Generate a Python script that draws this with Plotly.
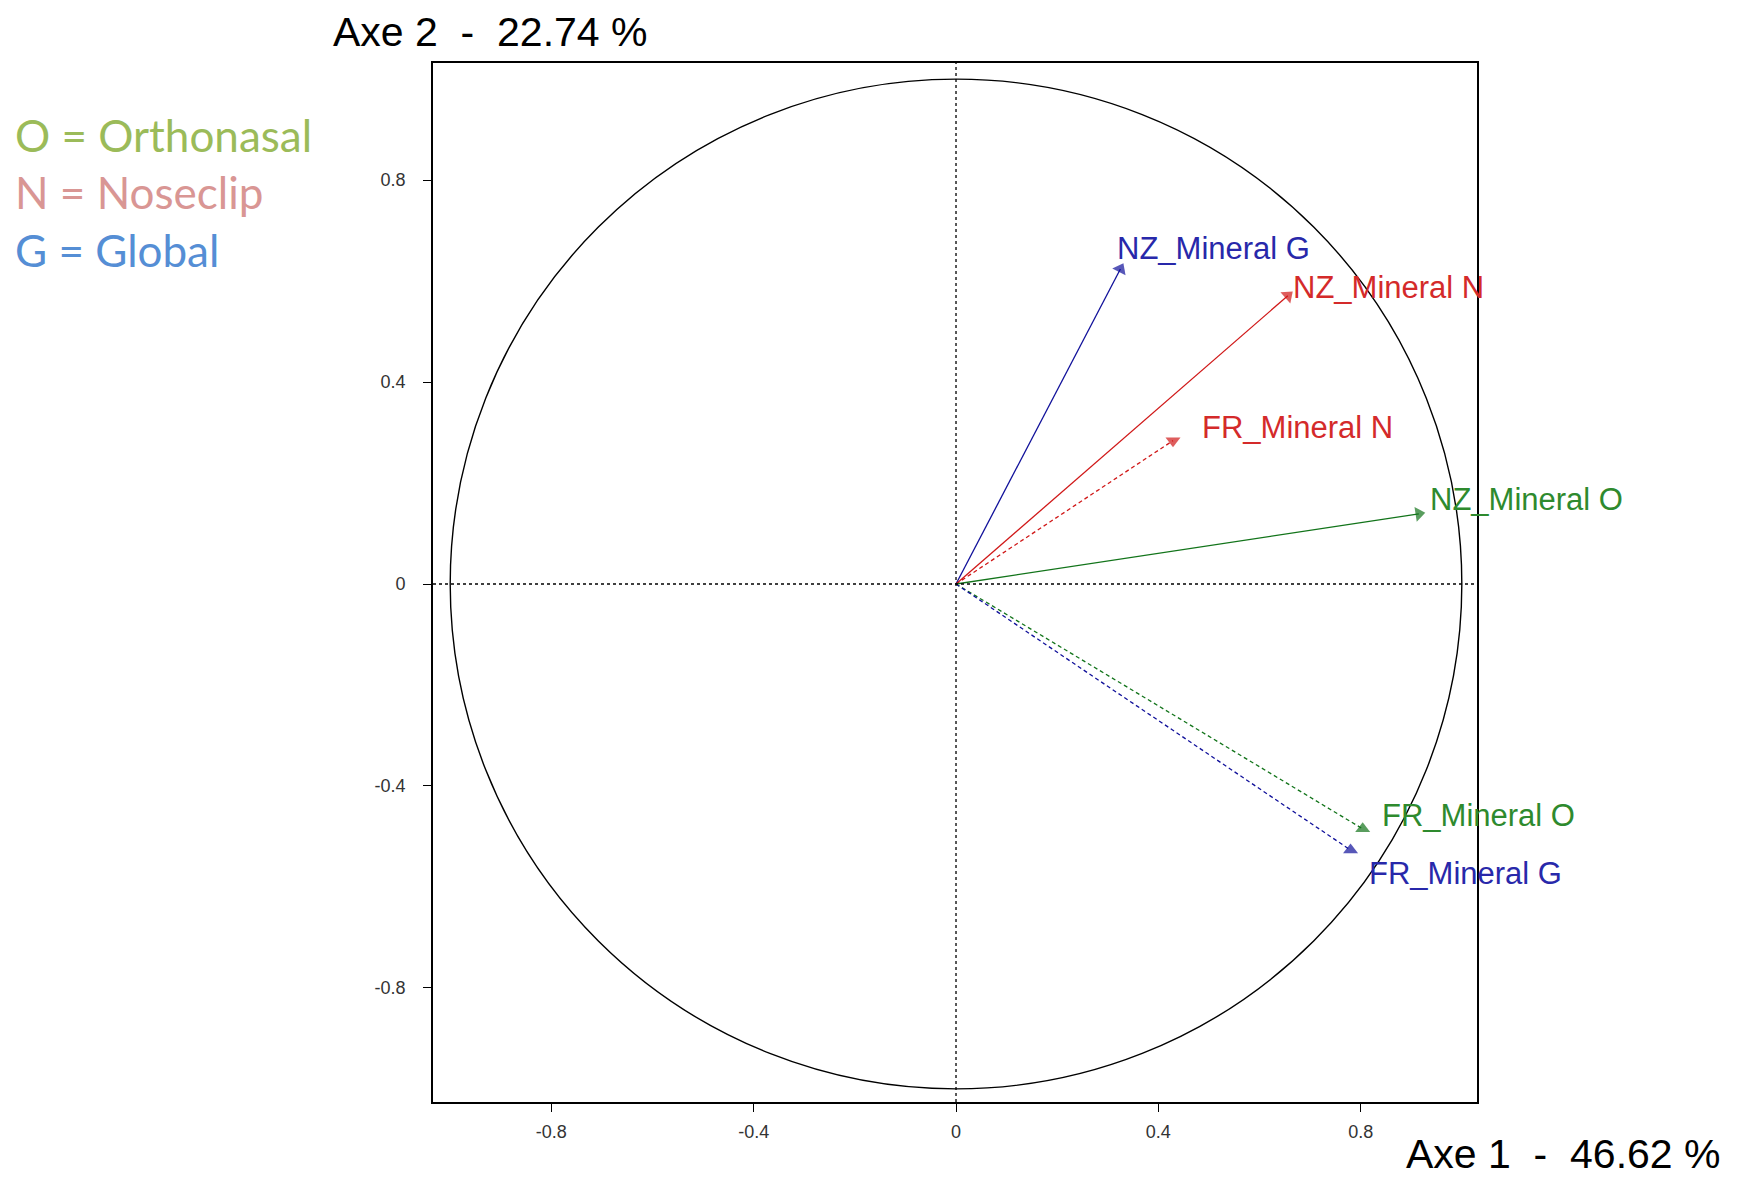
import plotly.graph_objects as go

# ---- data ----
variables = ["NZ_Mineral G", "NZ_Mineral N", "FR_Mineral N", "NZ_Mineral O", "FR_Mineral O", "FR_Mineral G"]
axe1 = [0.325, 0.656, 0.429, 0.915, 0.804, 0.780]
axe2 = [0.624, 0.571, 0.284, 0.139, -0.485, -0.527]
axe1_title = "Axe 1\u00a0\u00a0-\u00a0\u00a046.62 %"
axe2_title = "Axe 2\u00a0\u00a0-\u00a0\u00a022.74 %"
tick_vals = [-0.8, -0.4, 0, 0.4, 0.8]
tick_text = ["-0.8", "-0.4", "0", "0.4", "0.8"]
legend_lines = ["O = Orthonasal", "N = Noseclip", "G = Global"]

# ---- styles ----
line_colors = ["#10109a", "#d01818", "#d01818", "#12741a", "#12741a", "#10109a"]
text_colors = ["#2828aa", "#d42a2a", "#d42a2a", "#2e8a2e", "#2e8a2e", "#2828aa"]
dashes = ["solid", "solid", "4px,3px", "solid", "4px,3px", "4px,3px"]
head_symbols = ["triangle-up", "triangle-up", "triangle-down", "triangle-up", "triangle-up", "triangle-up"]
head_angleref = ["previous", "previous", "up", "previous", "up", "up"]
label_shift = [(-5, 20), (3, 8), (27, 13), (9, 14), (17, 13), (16, -23)]
legend_colors = ["#9BBB59", "#D99694", "#558ED5"]

fig = go.Figure()

for i, name in enumerate(variables):
    fig.add_trace(go.Scatter(
        x=[0, axe1[i]], y=[0, axe2[i]],
        mode="lines+markers",
        line=dict(color=line_colors[i], width=1.3, dash=dashes[i]),
        marker=dict(symbol=["circle", head_symbols[i]], size=[0, 13],
                    angleref=head_angleref[i],
                    color=line_colors[i], line=dict(width=0)),
        showlegend=False, hoverinfo="skip",
    ))
    dx, dy = label_shift[i]
    fig.add_annotation(
        x=axe1[i], y=axe2[i], text=name, showarrow=False,
        xanchor="left", yanchor="middle", xshift=dx, yshift=dy,
        font=dict(family="Liberation Sans, Arial", size=31, color=text_colors[i]),
    )

# unit circle and dashed axes
fig.add_shape(type="circle", xref="x", yref="y", x0=-1, y0=-1, x1=1, y1=1,
              line=dict(color="black", width=1.4))
fig.add_shape(type="line", xref="x", yref="paper", x0=0, x1=0, y0=0, y1=1,
              line=dict(color="black", width=1.3, dash="3px,3px"))
fig.add_shape(type="line", xref="paper", yref="y", x0=0, x1=1, y0=0, y1=0,
              line=dict(color="black", width=1.3, dash="3px,3px"))

# axis titles
fig.add_annotation(xref="paper", yref="paper", x=-0.0965, y=1.0529, text=axe2_title,
                   showarrow=False, xanchor="left", yanchor="top", borderpad=0,
                   font=dict(family="Liberation Sans, Arial", size=41, color="black"))
fig.add_annotation(xref="paper", yref="paper", x=0.931, y=-0.0731, text=axe1_title,
                   showarrow=False, xanchor="left", yanchor="bottom", borderpad=0,
                   font=dict(family="Liberation Sans, Arial", size=41, color="black"))

# legend text
legend_y = [0.9307, 0.8759, 0.8200]
for txt, col, yy in zip(legend_lines, legend_colors, legend_y):
    fig.add_annotation(xref="paper", yref="paper", x=-0.4023, y=yy, text=txt,
                       showarrow=False, xanchor="left", yanchor="middle",
                       font=dict(family="Lato, Carlito, Open Sans", size=44, color=col))

axis_common = dict(
    tickvals=tick_vals, ticktext=tick_text, ticks="outside", ticklen=8,
    tickcolor="black", tickwidth=1.3, showline=True, linecolor="black", linewidth=1.8,
    mirror=True, showgrid=False, zeroline=False,
    tickfont=dict(family="Liberation Sans, Arial", size=18, color="#333333"),
)
fig.update_xaxes(range=[-1.034, 1.030], ticklabelstandoff=4, **axis_common)
fig.update_yaxes(range=[-1.026, 1.032], ticklabelstandoff=14, **axis_common)

fig.update_layout(
    width=1736, height=1170,
    margin=dict(l=425, r=267, t=55, b=76),
    paper_bgcolor="white", plot_bgcolor="white",
)

fig.write_html("out.html")
